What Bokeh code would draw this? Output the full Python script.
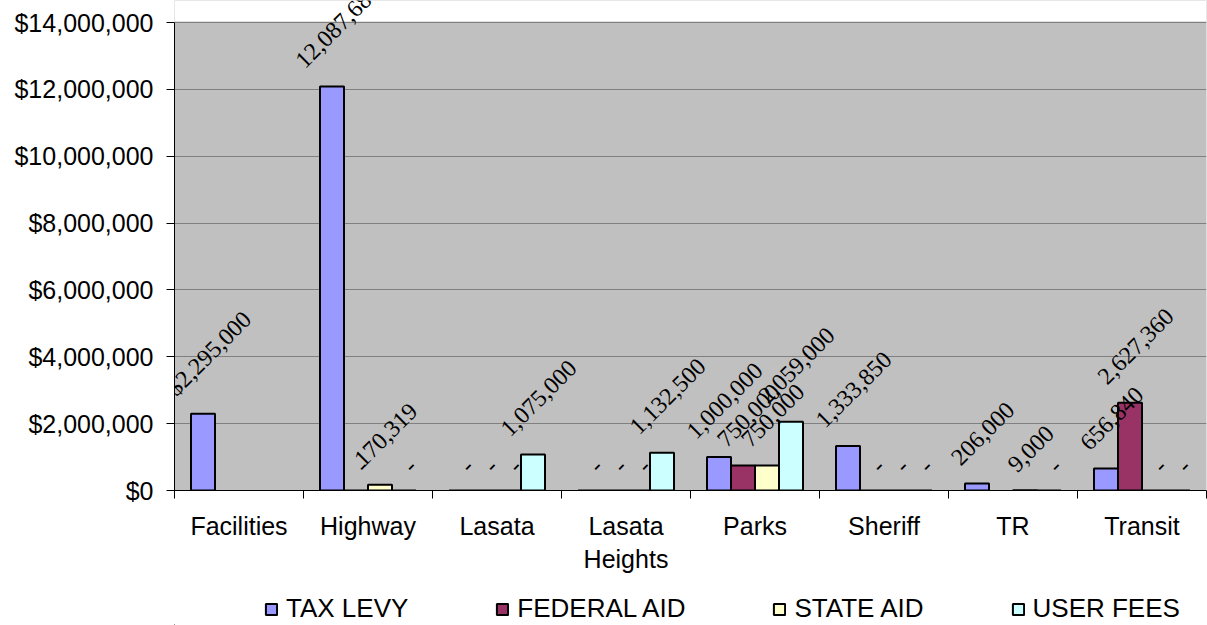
import math
from bokeh.plotting import figure
from bokeh.layouts import column
from bokeh.models import (ColumnDataSource, Range1d, LinearAxis, FixedTicker, BoxAnnotation,
                          NumeralTickFormatter, LabelSet, Legend, LegendItem, Grid)
from bokeh.transform import dodge
from bokeh.embed import file_html
from bokeh.resources import INLINE

NaN = float("nan")

categories = ["Facilities", "Highway", "Lasata", "Lasata\nHeights", "Parks", "Sheriff", "TR", "Transit"]
series_names = ["TAX LEVY", "FEDERAL AID", "STATE AID", "USER FEES"]
tax_levy = [2295000, 12087680, 0, 0, 1000000, 1333850, 206000, 656840]
federal_aid = [NaN, 0, 0, 0, 750000, 0, NaN, 2627360]
state_aid = [NaN, 170319, 0, 0, 750000, 0, 9000, 0]
user_fees = [NaN, 0, 1075000, 1132500, 2059000, 0, 0, 0]
y_ticks = [0, 2000000, 4000000, 6000000, 8000000, 10000000, 12000000, 14000000]

colors = ["#9999FF", "#993366", "#FFFFCC", "#CCFFFF"]
FONT = "Liberation Sans"
LABEL_FS = 24
Y_MAX = 14000000

series = [tax_levy, federal_aid, state_aid, user_fees]
n = len(categories)
bar_w = 0.186

W = 1207
H_CHART = 592
H_LEG = 625 - H_CHART
FRAME_H = 490
TOP_PAD = 22  # white strip above the plot area (px)
y_top = Y_MAX * FRAME_H / (FRAME_H - TOP_PAD)

p = figure(width=W, height=H_CHART, x_range=Range1d(0, n), y_range=Range1d(0, y_top),
           output_backend="svg", toolbar_location=None, x_axis_type=None, y_axis_type=None,
           min_border_left=174, min_border_right=1, min_border_top=0,
           min_border_bottom=H_CHART - FRAME_H)
p.background_fill_color = "#C0C0C0"
p.border_fill_color = "white"
p.outline_line_color = None

# y axis
yax = LinearAxis(ticker=FixedTicker(ticks=y_ticks), formatter=NumeralTickFormatter(format="$0,0"),
                 bounds=(0, Y_MAX))
yax.major_label_text_font = FONT
yax.major_label_text_font_size = "25px"
yax.major_label_text_color = "black"
yax.major_tick_out = 8
yax.major_tick_in = 0
yax.minor_tick_out = 0
yax.minor_tick_in = 0
yax.major_label_standoff = 13
yax.axis_line_color = "black"
yax.major_tick_line_color = "black"
p.add_layout(yax, "left")
p.add_layout(Grid(dimension=1, ticker=yax.ticker, grid_line_color="#808080", grid_line_width=1))
# white strip above the top of the value scale (plot area ends at Y_MAX)
p.add_layout(BoxAnnotation(bottom=Y_MAX + Y_MAX / 460, fill_color="white", fill_alpha=1,
                           line_color=None, level="underlay"))

# x axis with ticks between categories
centers = [i + 0.5 for i in range(n)]
xax = LinearAxis(ticker=FixedTicker(ticks=centers, minor_ticks=list(range(n + 1))))
xax.major_label_overrides = {c: name for c, name in zip(centers, categories)}
xax.major_label_text_font = FONT
xax.major_label_text_font_size = "25px"
xax.major_label_text_color = "black"
xax.major_tick_out = 0
xax.major_tick_in = 0
xax.major_tick_line_color = None
xax.minor_tick_out = 8
xax.minor_tick_in = 0
xax.minor_tick_line_color = "black"
xax.major_label_standoff = 13
xax.axis_line_color = "black"
p.add_layout(xax, "below")

renderers = []
lab_x, lab_y, lab_t, lab_off = [], [], [], []
cw = {",": 0.278, "$": 0.556, "-": 0.333}
for k, (name, vals, col) in enumerate(zip(series_names, series, colors)):
    off = (k - 1.5) * bar_w
    src = ColumnDataSource(dict(x=centers, top=vals))
    r = p.vbar(x=dodge("x", off), top="top", bottom=0, width=bar_w, source=src,
               fill_color=col, line_color="black", line_width=2)
    renderers.append(r)
    for i, v in enumerate(vals):
        if isinstance(v, float) and math.isnan(v):
            continue
        txt = "-" if v == 0 else f"{v:,.0f}"
        if i == 0 and k == 0:
            txt = "$" + txt
        L = sum(cw.get(ch, 0.556) for ch in txt) * LABEL_FS * 0.9
        box = 0.707 * (L + 0.72 * LABEL_FS)
        lab_x.append(centers[i] + off)
        lab_y.append(v)
        lab_t.append(txt)
        lab_off.append(16 + box / 2)

lsrc = ColumnDataSource(dict(x=lab_x, y=lab_y, text=lab_t, yoff=lab_off))
labels = LabelSet(x="x", y="y", text="text", y_offset="yoff", x_offset=6, source=lsrc,
                  angle=math.pi / 4, text_align="center", text_baseline="middle",
                  text_font=FONT, text_font_size=f"{LABEL_FS}px", text_color="black")
p.add_layout(labels)

# legend strip below the chart (its frame is aligned with the chart's frame)
lf = figure(width=W, height=H_LEG, x_range=Range1d(0, 1), y_range=Range1d(0, 1),
            output_backend="svg", toolbar_location=None, x_axis_type=None, y_axis_type=None,
            min_border_left=174, min_border_right=1, min_border_top=0, min_border_bottom=0)
lf.outline_line_color = None
lf.background_fill_color = "white"
lf.border_fill_color = "white"
leg_r = []
for col in colors:
    leg_r.append(lf.vbar(x=[-5], top=[0], width=0.1, fill_color=col, line_color="black", line_width=2))
legend = Legend(items=[LegendItem(label=nm, renderers=[r]) for nm, r in zip(series_names, leg_r)],
                orientation="horizontal", location=(90, 0), glyph_width=14, glyph_height=14,
                label_standoff=8, spacing=87, label_text_font=FONT, label_text_font_size="26px",
                label_text_color="black", label_height=H_LEG, border_line_color=None,
                background_fill_alpha=0, padding=0, margin=0)
lf.add_layout(legend, "center")

layout = column(p, lf, spacing=0)
open("out.html", "w").write(file_html(layout, INLINE))
